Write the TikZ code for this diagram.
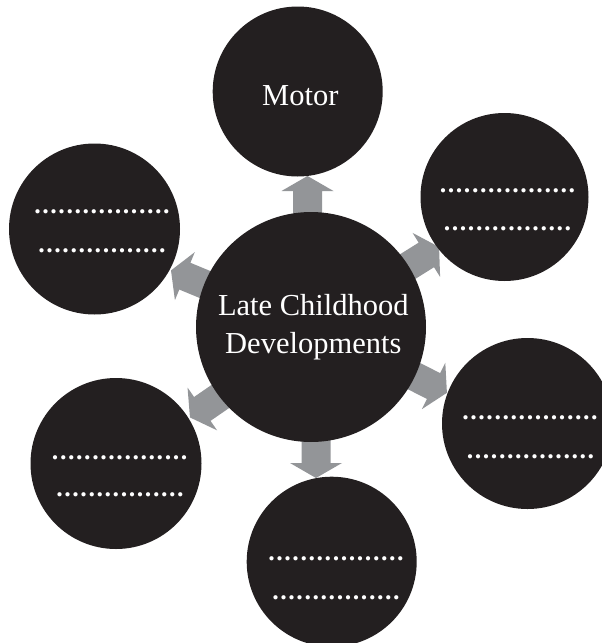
\documentclass[tikz,border=0pt]{standalone}
\usepackage{fontspec}
\setmainfont{Liberation Serif}
\usetikzlibrary{backgrounds}
\definecolor{bubblefill}{HTML}{231F20}
\definecolor{arrowgray}{HTML}{939598}
\newcommand\dotrow[1]{\foreach \i in {1,...,#1}{\hbox to 8.06pt{\hss.\hss}}}
\tikzset{
  bubble/.style={circle, fill=bubblefill, draw=none, inner sep=0pt, minimum size=#1},
  bigtext/.style={text=white, inner sep=0pt, font=\fontsize{30.5}{37.6}\selectfont},
  dotstext/.style={text=white, inner sep=0pt, font=\fontsize{26}{28}\selectfont\bfseries},
  blockarrow/.style={fill=arrowgray, draw=none}
}
\newcommand\blockarr[3]{%
  \begin{scope}[shift={(#1.center)}, rotate=#2]
    \fill[blockarrow] (80,#3-14.5) -- (136,#3-14.5) -- (136,#3-26) -- (151,#3)
      -- (136,#3+26) -- (136,#3+14.5) -- (80,#3+14.5) -- cycle;
  \end{scope}}
\begin{document}
\begin{tikzpicture}[x=1pt,y=-1pt]
  \useasboundingbox (0,0) rectangle (602,643);
  \clip (0,0) rectangle (602,643);
  % circles
  \node[bubble=230pt] (hub) at (311,327) {};
  \node[bubble=170pt] (motor) at (297.7,91.5) {};
  \node[bubble=168pt] (ur) at (504.5,197) {};
  \node[bubble=171pt] (ul) at (94.5,229) {};
  \node[bubble=171pt] (rl) at (527.5,423.5) {};
  \node[bubble=171pt] (ll) at (116,463.5) {};
  \node[bubble=170pt] (bot) at (331.7,561.7) {};
  % arrows (behind circles)
  \begin{pgfonlayer}{background}
    \blockarr{hub}{90}{-3.5}
    \blockarr{hub}{32}{0}
    \blockarr{hub}{157.5}{-1.3}
    \blockarr{hub}{-26.9}{-2.8}
    \blockarr{hub}{214.6}{-5.7}
    \blockarr{hub}{-90}{-5}
  \end{pgfonlayer}
  % texts
  \node[bigtext, anchor=base] (hubtext) at (313.3,315.7) {Late Childhood};
  \node[bigtext, anchor=base] (hubtext2) at (313.3,353.3) {Developments};
  \node[bigtext, anchor=base] (motortext) at (300.3,105) {Motor};
  \node[dotstext] (ula) at (102,212) {\dotrow{17}};
  \node[dotstext] (ulb) at (102,251) {\dotrow{16}};
  \node[dotstext] (ura) at (507.5,191) {\dotrow{17}};
  \node[dotstext] (urb) at (507.5,229) {\dotrow{16}};
  \node[dotstext] (rla) at (530,418) {\dotrow{17}};
  \node[dotstext] (rlb) at (530.5,457) {\dotrow{16}};
  \node[dotstext] (lla) at (119.7,457.7) {\dotrow{17}};
  \node[dotstext] (llb) at (120,495) {\dotrow{16}};
  \node[dotstext] (bota) at (336,559) {\dotrow{17}};
  \node[dotstext] (botb) at (336,597.7) {\dotrow{16}};
\end{tikzpicture}
\end{document}
